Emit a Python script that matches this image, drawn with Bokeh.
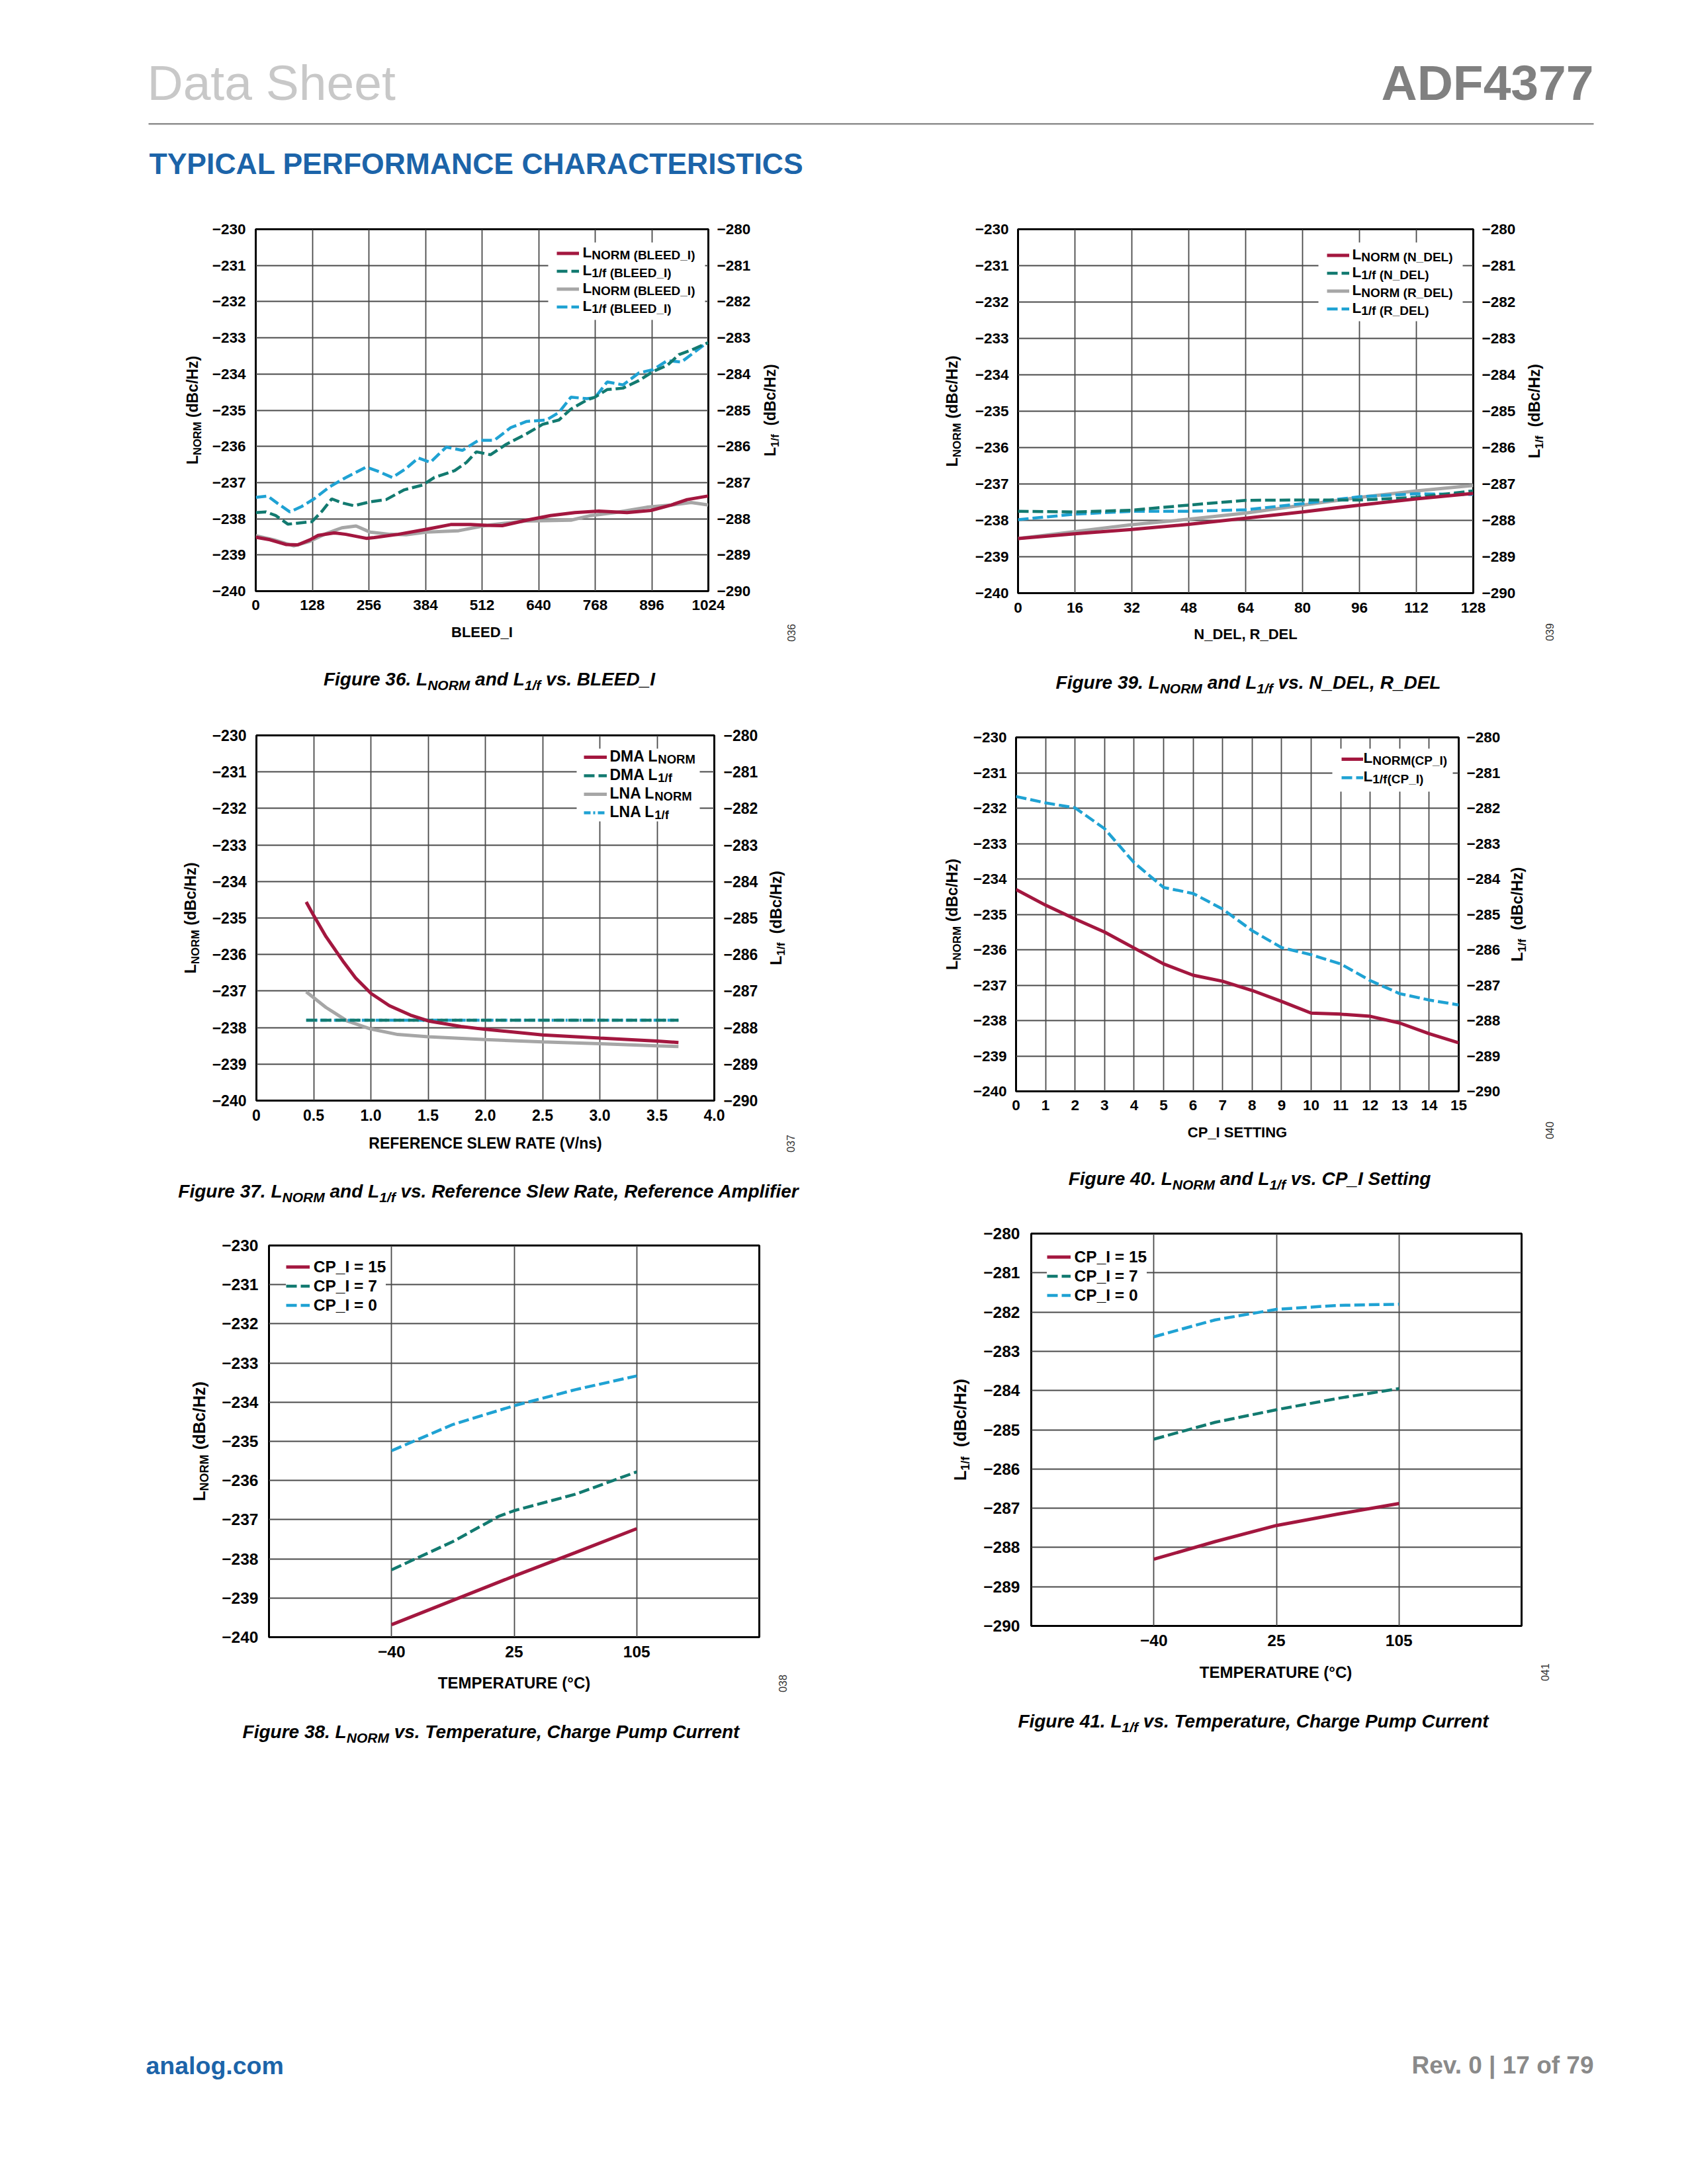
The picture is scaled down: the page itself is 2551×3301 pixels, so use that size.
import numpy as np
from math import pi
from bokeh.plotting import figure
from bokeh.models import (Range1d, LinearAxis, FixedTicker, Label, Legend,
                          LegendItem, BoxAnnotation)
from bokeh.layouts import column, row
from bokeh.core.properties import value
from bokeh.embed import file_html
from bokeh.resources import INLINE

# ---------------------------------------------------------------- data
LNORM_TICKS = [-240, -239, -238, -237, -236, -235, -234, -233, -232, -231, -230]
LNORM_TICK_LABELS = ["\u2212240", "\u2212239", "\u2212238", "\u2212237", "\u2212236", "\u2212235",
                     "\u2212234", "\u2212233", "\u2212232", "\u2212231", "\u2212230"]
L1F_TICKS = [-290, -289, -288, -287, -286, -285, -284, -283, -282, -281, -280]
L1F_TICK_LABELS = ["\u2212290", "\u2212289", "\u2212288", "\u2212287", "\u2212286", "\u2212285",
                   "\u2212284", "\u2212283", "\u2212282", "\u2212281", "\u2212280"]

# Figure 36 : BLEED_I
BLEED_TICKS = [0, 128, 256, 384, 512, 640, 768, 896, 1024]
BLEED_TICK_LABELS = ["0", "128", "256", "384", "512", "640", "768", "896", "1024"]
BLEED_X_LNORM_A = [0, 32, 68, 95, 123, 141, 177, 204, 250, 268, 322, 386, 441, 486, 522, 558,
                   613, 667, 722, 776, 840, 894, 940, 976, 1024]
BLEED_LNORM_A = [-238.51, -238.58, -238.71, -238.72, -238.58, -238.46, -238.39, -238.43, -238.54,
                 -238.52, -238.43, -238.29, -238.16, -238.16, -238.18, -238.19, -238.04, -237.91,
                 -237.83, -237.79, -237.83, -237.77, -237.62, -237.47, -237.37]
BLEED_X_LNORM_B = [0, 41, 86, 123, 159, 195, 227, 259, 304, 340, 386, 459, 522, 613, 713, 758,
                   813, 885, 940, 985, 1024]
BLEED_LNORM_B = [-238.47, -238.58, -238.75, -238.62, -238.41, -238.25, -238.20, -238.37, -238.43,
                 -238.44, -238.37, -238.33, -238.18, -238.06, -238.04, -237.91, -237.83, -237.68,
                 -237.62, -237.55, -237.62]
BLEED_X_L1F_A = [0, 23, 45, 73, 95, 127, 150, 172, 195, 222, 259, 295, 336, 377, 404, 450, 477,
                 499, 531, 567, 613, 649, 686, 713, 749, 767, 795, 831, 867, 899, 931, 958, 985, 1024]
BLEED_L1F_A = [-287.83, -287.81, -287.91, -288.15, -288.12, -288.08, -287.79, -287.45, -287.56,
               -287.64, -287.53, -287.47, -287.20, -287.07, -286.86, -286.67, -286.44, -286.15,
               -286.23, -285.94, -285.65, -285.39, -285.27, -284.97, -284.72, -284.64, -284.43,
               -284.39, -284.18, -283.93, -283.76, -283.46, -283.34, -283.13]
BLEED_X_L1F_B = [0, 27, 50, 77, 104, 132, 168, 204, 250, 277, 309, 340, 368, 395, 431, 468, 504,
                 540, 577, 613, 658, 686, 713, 749, 767, 795, 831, 867, 899, 931, 963, 994, 1017]
BLEED_L1F_B = [-287.41, -287.37, -287.58, -287.81, -287.66, -287.45, -287.11, -286.86, -286.57,
               -286.69, -286.86, -286.61, -286.32, -286.44, -286.02, -286.11, -285.83, -285.83,
               -285.48, -285.31, -285.27, -285.06, -284.64, -284.68, -284.66, -284.22, -284.30,
               -283.97, -283.88, -283.63, -283.67, -283.38, -283.17]

# Figure 39 : N_DEL, R_DEL
DEL_TICKS = [0, 16, 32, 48, 64, 80, 96, 112, 128]
DEL_TICK_LABELS = ["0", "16", "32", "48", "64", "80", "96", "112", "128"]
DEL_X = [0, 16, 32, 48, 64, 80, 96, 112, 128]
NDEL_LNORM = [-238.50, -238.37, -238.25, -238.11, -237.94, -237.77, -237.58, -237.41, -237.26]
RDEL_LNORM = [-238.50, -238.31, -238.12, -237.97, -237.80, -237.58, -237.37, -237.19, -237.04]
NDEL_L1F = [-287.75, -287.77, -287.72, -287.58, -287.45, -287.44, -287.44, -287.37, -287.19]
RDEL_L1F = [-287.98, -287.83, -287.75, -287.75, -287.71, -287.54, -287.35, -287.27, -287.29]

# Figure 37 : reference slew rate
SLEW_TICKS = [0, 0.5, 1.0, 1.5, 2.0, 2.5, 3.0, 3.5, 4.0]
SLEW_TICK_LABELS = ["0", "0.5", "1.0", "1.5", "2.0", "2.5", "3.0", "3.5", "4.0"]
SLEW_X_DMA = [0.435, 0.498, 0.608, 0.756, 0.866, 1.003, 1.161, 1.346, 1.504, 1.788, 2.0, 2.5,
              3.0, 3.5, 3.687]
DMA_LNORM = [-234.56, -234.92, -235.51, -236.18, -236.64, -237.07, -237.40, -237.66, -237.82,
             -237.97, -238.05, -238.20, -238.29, -238.37, -238.41]
SLEW_X_LNA = [0.435, 0.608, 0.793, 1.0, 1.235, 1.5, 2.0, 2.5, 3.0, 3.5, 3.687]
LNA_LNORM = [-237.02, -237.45, -237.82, -238.04, -238.19, -238.25, -238.33, -238.39, -238.44,
             -238.50, -238.52]
SLEW_X_L1F = [0.435, 3.687]
DMA_L1F = [-287.80, -287.80]
LNA_L1F = [-287.80, -287.80]

# Figure 40 : CP_I setting
CPI_TICKS = list(range(16))
CPI_TICK_LABELS = [str(v) for v in range(16)]
CPI_X = list(range(16))
CPI_LNORM = [-234.30, -234.74, -235.13, -235.50, -235.95, -236.40, -236.72, -236.89, -237.15,
             -237.46, -237.79, -237.82, -237.88, -238.07, -238.37, -238.63]
CPI_L1F = [-281.67, -281.85, -281.99, -282.58, -283.54, -284.24, -284.41, -284.85, -285.46,
           -285.94, -286.14, -286.40, -286.87, -287.24, -287.42, -287.56]

# Figures 38 / 41 : temperature
TEMP_TICKS = [-40, 25, 105]
TEMP_TICK_LABELS = ["\u221240", "25", "105"]
TEMP_T = [-40, -7.5, 25, 65, 105]
TEMP_T_CP7 = [-40, -7.5, 17, 25, 65, 105]
LNORM_CP15 = [-239.68, -239.06, -238.44, -237.84, -237.23]
LNORM_CP7 = [-238.28, -237.56, -236.91, -236.77, -236.35, -235.78]
LNORM_CP0 = [-235.24, -234.57, -234.09, -233.68, -233.33]
L1F_CP15 = [-288.30, -287.85, -287.44, -287.15, -286.88]
L1F_CP7 = [-285.24, -284.81, -284.49, -284.20, -283.95]
L1F_CP0 = [-282.63, -282.20, -281.93, -281.83, -281.80]

# ---------------------------------------------------------------- style
FONT = "Liberation Sans"
CRIMSON = "#A3173F"
TEAL = "#127A70"
GRAY = "#A6A6A6"
BLUE = "#1FA2D3"
GRID = "#4a4a4a"
ADI_BLUE = "#1C64A9"
DASH = "16 6"
LW = 5
LWD = 4.5
KMID = 0.3465           # em-box middle above the alphabetic baseline
LEG_DX, LEG_DY = 8, 5   # legend placement correction (px)

# page layout (screenshot pixel coordinates)
COL_X = [0, 1275, 2543]
ROW_Y = [300, 1060, 1835, 2700]
FR36 = (386, 346, 1070, 893)
FR39 = (1538, 346, 2226, 896)
FR37 = (387, 1111, 1079, 1663)
FR40 = (1535, 1114, 2204, 1649)
FR38 = (406, 1882, 1147, 2474)
FR41 = (1557, 1864, 2298, 2457)

W_BOLD = {' ': 278, '(': 333, ')': 333, '/': 278, '.': 278, ',': 278, '_': 556, '-': 333,
          '=': 584, '\u00b0': 400, '|': 280,
          'A': 722, 'B': 722, 'C': 722, 'D': 722, 'E': 667, 'F': 611, 'G': 778, 'H': 722,
          'I': 278, 'J': 556, 'K': 722, 'L': 611, 'M': 833, 'N': 722, 'O': 778, 'P': 667,
          'Q': 778, 'R': 722, 'S': 667, 'T': 611, 'U': 722, 'V': 667, 'W': 944, 'X': 667,
          'Y': 667, 'Z': 611,
          'a': 556, 'b': 611, 'c': 556, 'd': 611, 'e': 556, 'f': 333, 'g': 611, 'h': 611,
          'i': 278, 'j': 278, 'k': 556, 'l': 278, 'm': 889, 'n': 611, 'o': 611, 'p': 611,
          'q': 611, 'r': 389, 's': 556, 't': 333, 'u': 611, 'v': 556, 'w': 778, 'x': 556,
          'y': 556, 'z': 500}


def tw(s, size):
    return sum(W_BOLD.get(ch, 556) for ch in s) / 1000.0 * size


def tpos(t):
    return [float(v) for v in np.interp(t, TEMP_TICKS, [1, 2, 3])]


class Canvas:
    """Places Labels at screenshot pixel coordinates on a figure."""

    def __init__(self, fig, ox, oy, screen=False, fb=0):
        self.fig, self.ox, self.oy, self.screen, self.fb = fig, ox, oy, screen, fb

    def text(self, px, py, text, size, style="bold", color="black", align="left",
             angle=0.0, alpha=True):
        # (px, py) is the alphabetic baseline point unless alpha=False (then centre)
        if alpha:
            if angle == 0.0:
                py = py - KMID * size
            else:
                px = px - KMID * size
        if self.screen:
            x, y, u = px - self.ox, self.fb - py, "screen"
        else:
            x, y, u = px - self.ox, py - self.oy, "data"
        self.fig.add_layout(Label(x=x, y=y, x_units=u, y_units=u, text=text, text_font=FONT,
                                  text_font_size=f"{size:.1f}px", text_font_style=style,
                                  text_color=color, text_align=align, text_baseline="middle",
                                  angle=angle, level="overlay"))


def rich(cv, px, py, parts, align="left", rotated=False, style="bold"):
    widths = [tw(t, s) for t, s, _ in parts]
    W = sum(widths)
    cum = {"left": 0.0, "center": -W / 2, "right": -W}[align]
    for (t, s, sh), w in zip(parts, widths):
        st = t.lstrip(" ")
        lead = tw(t[:len(t) - len(st)], s)
        if rotated:
            cv.text(px + sh, py - cum - lead, st, s, style=style, angle=pi / 2)
        else:
            cv.text(px + cum + lead, py + sh, st, s, style=style)
        cum += w


def blank(w, h, tb=0, bb=0):
    b = figure(frame_width=int(w), frame_height=int(h), min_border_left=0, min_border_right=0,
               min_border_top=int(tb), min_border_bottom=int(bb),
               x_range=Range1d(0, w), y_range=Range1d(h, 0),
               toolbar_location=None, tools="", output_backend="svg",
               x_axis_type=None, y_axis_type=None)
    b.outline_line_color = None
    b.background_fill_color = "white"
    b.border_fill_color = "white"
    return b


def build_cell(c, r, fr, xr, yr, bl, br, bb, has_right):
    x0, x1 = COL_X[c], COL_X[c + 1]
    y0, y1 = ROW_Y[r], ROW_Y[r + 1]
    L, T, R, B = fr
    tb = T - y0
    fh = B - T
    rb = br if has_right else x1 - R
    p = figure(frame_width=R - L, frame_height=fh, min_border_left=bl, min_border_right=rb,
               min_border_top=tb, min_border_bottom=bb,
               x_range=Range1d(*xr), y_range=Range1d(*yr),
               toolbar_location=None, tools="", output_backend="svg")
    p.outline_line_color = "black"
    p.outline_line_width = 3
    p.background_fill_color = "white"
    p.border_fill_color = "white"
    left = blank(L - bl - x0, fh, tb, bb)
    items = [left, p]
    cv = {"chart": Canvas(p, L, 0, screen=True, fb=B), "left": Canvas(left, x0, T)}
    if has_right:
        right = blank(x1 - (R + rb), fh, tb, bb)
        items.append(right)
        cv["right"] = Canvas(right, R + rb, T)
    bottom = blank(x1 - x0, y1 - (B + bb))
    cv["bottom"] = Canvas(bottom, x0, B + bb)
    return p, cv, column(row(*items), bottom)


def style_axis(ax, ticks, labels, size, standoff):
    ax.ticker = FixedTicker(ticks=ticks)
    ax.major_label_overrides = {t: s for t, s in zip(ticks, labels)}
    ax.axis_line_color = None
    ax.major_tick_line_color = None
    ax.minor_tick_line_color = None
    ax.major_tick_out = 0
    ax.major_tick_in = 0
    ax.major_label_text_font = FONT
    ax.major_label_text_font_style = "bold"
    ax.major_label_text_font_size = f"{size}px"
    ax.major_label_text_color = "black"
    ax.major_label_standoff = int(round(standoff))


def style_grid(p, xticks, yticks):
    p.xgrid.ticker = FixedTicker(ticks=xticks)
    p.ygrid.ticker = FixedTicker(ticks=yticks)
    p.xgrid.grid_line_color = GRID
    p.ygrid.grid_line_color = GRID
    p.xgrid.grid_line_width = 1.8
    p.ygrid.grid_line_width = 1.8


def to_data(fr, xr, yr, px, py):
    L, T, R, B = fr
    return (xr[0] + (px - L) / (R - L) * (xr[1] - xr[0]),
            yr[0] + (B - py) / (B - T) * (yr[1] - yr[0]))


def sub_legend(p, cv, fr, xr, yr, rends, rows, x0, gw, box, text_x, mains, subs, ms, ss):
    L, T, R, B = fr
    # white legend background (box in screenshot px: left, top, right, bottom)
    bx0, by0 = to_data(fr, xr, yr, box[0], box[3])
    bx1, by1 = to_data(fr, xr, yr, box[2], box[1])
    p.add_layout(BoxAnnotation(left=bx0, right=bx1, bottom=by0, top=by1, fill_color="white",
                               fill_alpha=1.0, line_color=None))
    h = int(round((rows[-1] - rows[0]) / (len(rows) - 1)))
    pad = 4
    box_left = x0 - pad
    box_top = rows[0] - pad - h / 2
    box_h = 2 * pad + len(rows) * h
    leg = Legend(items=[LegendItem(label=value(" "), renderers=[r]) for r in rends],
                 location=(float(box_left - L + LEG_DX), float(B - (box_top + box_h) + LEG_DY)),
                 padding=pad, spacing=0, margin=0, glyph_width=int(gw), glyph_height=h,
                 label_height=h, label_width=40, label_standoff=5, label_text_font_size="2px",
                 background_fill_alpha=0.0, border_line_color=None)
    p.add_layout(leg)
    for i, (m, s) in enumerate(zip(mains, subs)):
        yc = rows[0] + i * h
        rich(cv, text_x, yc + 5, [(m, ms, 0), (s, ss, 3.4)])


def plain_legend(p, fr, rends, labels, rows, x0, gw, size):
    L, T, R, B = fr
    h = int(round((rows[-1] - rows[0]) / (len(rows) - 1)))
    pad = 6
    box_left = x0 - pad
    box_top = rows[0] - pad - h / 2
    box_h = 2 * pad + len(rows) * h
    leg = Legend(items=[LegendItem(label=value(lb), renderers=[r]) for lb, r in zip(labels, rends)],
                 location=(float(box_left - L + LEG_DX), float(B - (box_top + box_h) + LEG_DY)),
                 padding=pad, spacing=0, margin=0, glyph_width=int(gw), glyph_height=h,
                 label_height=h, label_standoff=6, label_text_font=FONT,
                 label_text_font_style="bold", label_text_font_size=f"{size}px",
                 label_text_color="black", background_fill_color="white",
                 background_fill_alpha=1.0, border_line_color=None)
    p.add_layout(leg)


def code(cv, px, py, text):
    cv.text(px, py, text, 16, style="normal", color="#333333", align="center",
            angle=pi / 2, alpha=False)


def ytitle(cv, fr, bx, s, s2, sub, rest):
    L, T, R, B = fr
    rich(cv, bx, (T + B) / 2, [("L", s, 0), (sub, s2, 0.22 * s), (rest, s, 0)],
         align="center", rotated=True)


def caption(cv, cx, by, parts):
    rich(cv, cx, by, parts, align="center", style="bold italic")


def add_right_axis(p, size, standoff):
    p.extra_y_ranges = {"r": Range1d(-290, -280)}
    ax = LinearAxis(y_range_name="r")
    style_axis(ax, L1F_TICKS, L1F_TICK_LABELS, size, standoff)
    p.add_layout(ax, "right")


# ---------------------------------------------------------------- Figure 36
X36, Y36 = (0, 1024), (-240, -230)
p36, c36, cell36 = build_cell(0, 0, FR36, X36, Y36, 72, 70, 40, True)
style_axis(p36.xaxis[0], BLEED_TICKS, BLEED_TICK_LABELS, 22.5, 13)
style_axis(p36.yaxis[0], LNORM_TICKS, LNORM_TICK_LABELS, 22.5, 15)
add_right_axis(p36, 22.5, 13)
style_grid(p36, BLEED_TICKS, LNORM_TICKS)
r36b = p36.line(BLEED_X_LNORM_B, BLEED_LNORM_B, line_color=GRAY, line_width=LW)
r36d = p36.line(BLEED_X_L1F_B, BLEED_L1F_B, line_color=BLUE, line_width=LWD, line_dash=DASH,
                y_range_name="r")
r36c = p36.line(BLEED_X_L1F_A, BLEED_L1F_A, line_color=TEAL, line_width=LWD, line_dash=DASH,
                y_range_name="r")
r36a = p36.line(BLEED_X_LNORM_A, BLEED_LNORM_A, line_color=CRIMSON, line_width=LW)
sub_legend(p36, c36["chart"], FR36, X36, Y36, [r36a, r36c, r36b, r36d],
           [383.3, 410.2, 437.1, 464.0], 837.3, 34, (828, 366, 1065, 483), 880, ["L"] * 4,
           ["NORM (BLEED_I)", "1/f (BLEED_I)", "NORM (BLEED_I)", "1/f (BLEED_I)"], 22.5, 19)
c36["bottom"].text((FR36[0] + FR36[2]) / 2, 963, "BLEED_I", 22, align="center")
ytitle(c36["left"], FR36, 298.4, 23, 16.5, "NORM", " (dBc/Hz)")
ytitle(c36["right"], FR36, 1171, 23, 16.5, "1/f", "  (dBc/Hz)")
caption(c36["bottom"], 739, 1036, [("Figure 36. L", 28, 0), ("NORM", 21, 6), (" and L", 28, 0),
                                   ("1/f", 21, 6), (" vs. BLEED_I", 28, 0)])
code(c36["bottom"], 1195, 956, "036")

# ---------------------------------------------------------------- Figure 39
X39, Y39 = (0, 128), (-240, -230)
p39, c39, cell39 = build_cell(1, 0, FR39, X39, Y39, 72, 70, 40, True)
style_axis(p39.xaxis[0], DEL_TICKS, DEL_TICK_LABELS, 22.5, 14)
style_axis(p39.yaxis[0], LNORM_TICKS, LNORM_TICK_LABELS, 22.5, 14)
add_right_axis(p39, 22.5, 13)
style_grid(p39, DEL_TICKS, LNORM_TICKS)
r39b = p39.line(DEL_X, RDEL_LNORM, line_color=GRAY, line_width=LW)
r39d = p39.line(DEL_X, RDEL_L1F, line_color=BLUE, line_width=LWD, line_dash=DASH, y_range_name="r")
r39c = p39.line(DEL_X, NDEL_L1F, line_color=TEAL, line_width=LWD, line_dash=DASH, y_range_name="r")
r39a = p39.line(DEL_X, NDEL_LNORM, line_color=CRIMSON, line_width=LW)
sub_legend(p39, c39["chart"], FR39, X39, Y39, [r39a, r39c, r39b, r39d],
           [386.6, 413.9, 441.2, 468.5], 2001, 34, (1992, 366, 2210, 485), 2043, ["L"] * 4,
           ["NORM (N_DEL)", "1/f (N_DEL)", "NORM (R_DEL)", "1/f (R_DEL)"], 22.5, 19)
c39["bottom"].text((FR39[0] + FR39[2]) / 2, 966, "N_DEL, R_DEL", 22, align="center")
ytitle(c39["left"], FR39, 1446.6, 23.5, 17, "NORM", " (dBc/Hz)")
ytitle(c39["right"], FR39, 2327, 23.5, 17, "1/f", "  (dBc/Hz)")
caption(c39["bottom"], 1886, 1041, [("Figure 39. L", 28, 0), ("NORM", 21, 6), (" and L", 28, 0),
                                    ("1/f", 21, 6), (" vs. N_DEL, R_DEL", 28, 0)])
code(c39["bottom"], 2341, 955, "039")

# ---------------------------------------------------------------- Figure 37
X37, Y37 = (0, 4), (-240, -230)
p37, c37, cell37 = build_cell(0, 1, FR37, X37, Y37, 72, 72, 44, True)
style_axis(p37.xaxis[0], SLEW_TICKS, SLEW_TICK_LABELS, 23, 13)
style_axis(p37.yaxis[0], LNORM_TICKS, LNORM_TICK_LABELS, 23, 15)
add_right_axis(p37, 23, 14)
style_grid(p37, SLEW_TICKS, LNORM_TICKS)
r37b = p37.line(SLEW_X_LNA, LNA_LNORM, line_color=GRAY, line_width=LW)
r37d = p37.line(SLEW_X_L1F, LNA_L1F, line_color=BLUE, line_width=LWD, line_dash="10 4 3 4",
                y_range_name="r")
r37c = p37.line(SLEW_X_L1F, DMA_L1F, line_color=TEAL, line_width=LWD, line_dash=DASH,
                y_range_name="r")
r37a = p37.line(SLEW_X_DMA, DMA_LNORM, line_color=CRIMSON, line_width=LW)
sub_legend(p37, c37["chart"], FR37, X37, Y37, [r37a, r37c, r37b, r37d],
           [1145.2, 1172.8, 1200.4, 1228.0], 878, 35, (871, 1131, 1057, 1241), 921,
           ["DMA L", "DMA L", "LNA L", "LNA L"], ["NORM", "1/f", "NORM", "1/f"], 23, 18.5)
c37["bottom"].text((FR37[0] + FR37[2]) / 2, 1735, "REFERENCE SLEW RATE (V/ns)", 23,
                   align="center")
ytitle(c37["left"], FR37, 295.5, 23.5, 17, "NORM", " (dBc/Hz)")
ytitle(c37["right"], FR37, 1180.7, 23.5, 17, "1/f", "  (dBc/Hz)")
caption(c37["bottom"], 738, 1810, [("Figure 37. L", 28, 0), ("NORM", 21, 6), (" and L", 28, 0),
                                   ("1/f", 21, 6),
                                   (" vs. Reference Slew Rate, Reference Amplifier", 28, 0)])
code(c37["bottom"], 1194, 1728, "037")

# ---------------------------------------------------------------- Figure 40
X40, Y40 = (0, 15), (-240, -230)
p40, c40, cell40 = build_cell(1, 1, FR40, X40, Y40, 72, 70, 40, True)
style_axis(p40.xaxis[0], CPI_TICKS, CPI_TICK_LABELS, 22.5, 13)
style_axis(p40.yaxis[0], LNORM_TICKS, LNORM_TICK_LABELS, 22.5, 14.5)
add_right_axis(p40, 22.5, 12)
style_grid(p40, CPI_TICKS, LNORM_TICKS)
r40b = p40.line(CPI_X, CPI_L1F, line_color=BLUE, line_width=LWD, line_dash=DASH, y_range_name="r")
r40a = p40.line(CPI_X, CPI_LNORM, line_color=CRIMSON, line_width=LW)
sub_legend(p40, c40["chart"], FR40, X40, Y40, [r40a, r40b], [1147.5, 1175.4], 2023.4, 33,
           (2013, 1131, 2195, 1196), 2060, ["L", "L"], ["NORM(CP_I)", "1/f(CP_I)"], 22.5, 19)
c40["bottom"].text((FR40[0] + FR40[2]) / 2, 1719, "CP_I SETTING", 22, align="center")
ytitle(c40["left"], FR40, 1446.6, 23.5, 17, "NORM", " (dBc/Hz)")
ytitle(c40["right"], FR40, 2301, 23.5, 17, "1/f", "  (dBc/Hz)")
caption(c40["bottom"], 1888, 1791, [("Figure 40. L", 28, 0), ("NORM", 21, 6), (" and L", 28, 0),
                                    ("1/f", 21, 6), (" vs. CP_I Setting", 28, 0)])
code(c40["bottom"], 2341, 1708, "040")

# ---------------------------------------------------------------- Figure 38
p38, c38, cell38 = build_cell(0, 2, FR38, (0, 4), (-240, -230), 74, 0, 44, False)
style_axis(p38.xaxis[0], [1, 2, 3], TEMP_TICK_LABELS, 24.5, 13)
style_axis(p38.yaxis[0], LNORM_TICKS, LNORM_TICK_LABELS, 24.5, 16)
style_grid(p38, [1, 2, 3], LNORM_TICKS)
r38c = p38.line(tpos(TEMP_T), LNORM_CP0, line_color=BLUE, line_width=LWD, line_dash=DASH)
r38b = p38.line(tpos(TEMP_T_CP7), LNORM_CP7, line_color=TEAL, line_width=LWD, line_dash=DASH)
r38a = p38.line(tpos(TEMP_T), LNORM_CP15, line_color=CRIMSON, line_width=LW)
plain_legend(p38, FR38, [r38a, r38b, r38c], ["CP_I = 15", "CP_I = 7", "CP_I = 0"],
             [1913.5, 1942.8, 1972.1], 429.8, 36, 24.5)
c38["bottom"].text((FR38[0] + FR38[2]) / 2, 2551, "TEMPERATURE (\u00b0C)", 24, align="center")
ytitle(c38["left"], FR38, 308.9, 25.5, 18, "NORM", " (dBc/Hz)")
caption(c38["bottom"], 742, 2627, [("Figure 38. L", 28, 0), ("NORM", 21, 6),
                                   (" vs. Temperature, Charge Pump Current", 28, 0)])
code(c38["bottom"], 1182, 2544, "038")

# ---------------------------------------------------------------- Figure 41
p41, c41, cell41 = build_cell(1, 2, FR41, (0, 4), (-290, -280), 74, 0, 44, False)
style_axis(p41.xaxis[0], [1, 2, 3], TEMP_TICK_LABELS, 24.5, 13)
style_axis(p41.yaxis[0], L1F_TICKS, L1F_TICK_LABELS, 24.5, 16.6)
style_grid(p41, [1, 2, 3], L1F_TICKS)
r41c = p41.line(tpos(TEMP_T), L1F_CP0, line_color=BLUE, line_width=LWD, line_dash=DASH)
r41b = p41.line(tpos(TEMP_T), L1F_CP7, line_color=TEAL, line_width=LWD, line_dash=DASH)
r41a = p41.line(tpos(TEMP_T), L1F_CP15, line_color=CRIMSON, line_width=LW)
plain_legend(p41, FR41, [r41a, r41b, r41c], ["CP_I = 15", "CP_I = 7", "CP_I = 0"],
             [1898.9, 1928.2, 1957.5], 1578.6, 36, 24.5)
c41["bottom"].text((FR41[0] + FR41[2]) / 2, 2535, "TEMPERATURE (\u00b0C)", 24, align="center")
ytitle(c41["left"], FR41, 1459, 25.5, 18, "1/f", "  (dBc/Hz)")
caption(c41["bottom"], 1894, 2611, [("Figure 41. L", 28, 0), ("1/f", 21, 6),
                                    (" vs. Temperature, Charge Pump Current", 28, 0)])
code(c41["bottom"], 2334, 2527, "041")

# ---------------------------------------------------------------- header / footer
hdr = blank(COL_X[-1], ROW_Y[0])
hc = Canvas(hdr, 0, 0)
hc.text(222, 150, "Data Sheet", 75, style="normal", color="#c8c8c8")
hc.text(2408, 150, "ADF4377", 75, color="#808080", align="right")
hdr.add_layout(BoxAnnotation(left=224, right=2408, top=185.5, bottom=188,
                             fill_color="#8e8e8e", fill_alpha=1.0, line_color=None))
hc.text(225, 262, "TYPICAL PERFORMANCE CHARACTERISTICS", 44.5, color=ADI_BLUE)

ftr = blank(COL_X[-1], 500)
fc = Canvas(ftr, 0, ROW_Y[-1])
fc.text(220, 3134, "analog.com", 37.5, color=ADI_BLUE)
fc.text(2408, 3134, "Rev. 0 | 17 of 79", 37, color="#8a8a8a", align="right")

layout = column(hdr, row(cell36, cell39), row(cell37, cell40), row(cell38, cell41), ftr)
open("out.html", "w").write(file_html(layout, INLINE, title="ADF4377 Typical Performance"))
